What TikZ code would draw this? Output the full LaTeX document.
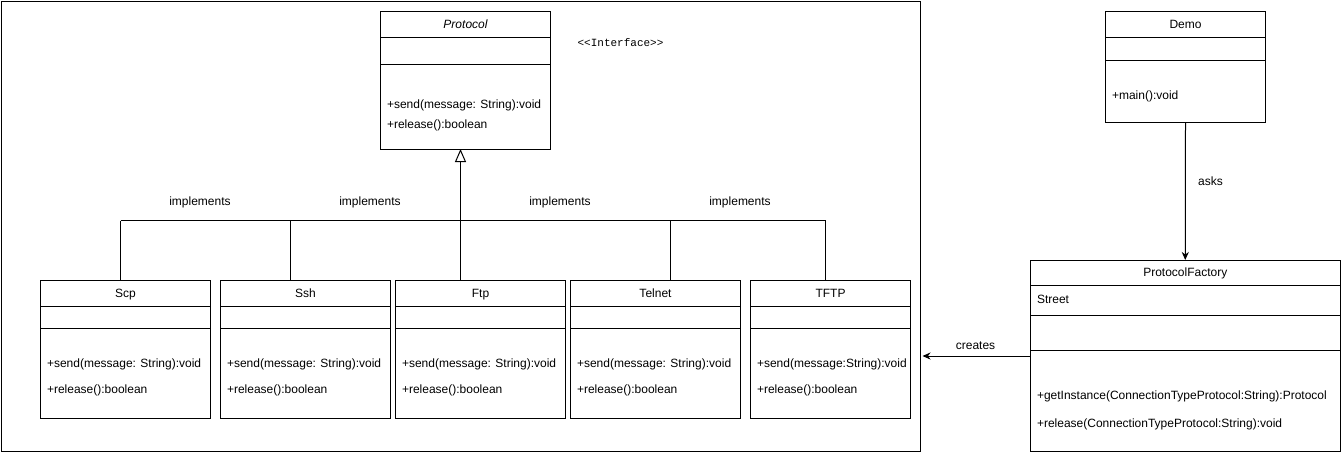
\documentclass[tikz,border=0pt]{standalone}
\usepackage{fontspec}
\setmainfont{Liberation Sans}
\setmonofont{Liberation Mono}
\usetikzlibrary{arrows.meta}
\newcommand{\umlclass}[7]{%
  \node[box, minimum width=#4pt, minimum height=#5pt] (#1) at (#2,#3) {};
  \draw ([yshift=-#6pt]#1.north west) -- ([yshift=-#6pt]#1.north east);
  \draw ([yshift=-#7pt]#1.north west) -- ([yshift=-#7pt]#1.north east);
}
\newcommand{\impclass}[5]{%
  \umlclass{#1}{#2}{280}{#3}{138}{26}{48}
  \node[ttl] (#1-t) at ([yshift=-14pt]#1.north) {#4};
  \node[txt] (#1-s) at ([xshift=6pt,yshift=-84.5pt]#1.north west) {#5};
  \node[txt] (#1-r) at ([xshift=6pt,yshift=-110.5pt]#1.north west) {+release():boolean};
}
\begin{document}
\begin{tikzpicture}[x=1pt,y=-1pt,line width=1pt,
  font=\fontsize{12}{14}\selectfont,
  box/.style={draw, anchor=north west, inner sep=0pt, outer sep=0pt},
  txt/.style={anchor=west, inner sep=0pt, text height=8.5pt, text depth=2.5pt},
  ttl/.style={inner sep=0pt, text height=8.5pt, text depth=2.5pt},
  lbl/.style={inner sep=0pt, text height=8.5pt, text depth=2.5pt},
  arr/.style={-{Stealth[length=8pt,width=7pt,inset=2.5pt]}},
  impl/.style={-{Triangle[open,length=13pt,width=11pt]}}]
\useasboundingbox (0,0) rectangle (1341,453);
% outer frame
\node[box, minimum width=919.5pt, minimum height=450pt] (frame) at (1,1) {};

% Protocol interface
\umlclass{protocol}{380.5}{11}{170}{138}{26}{53}
\node[ttl, font=\fontsize{12}{14}\selectfont\itshape] (protocol-t) at ([yshift=-14pt]protocol.north) {Protocol};
\node[txt] (protocol-s) at ([xshift=6pt,yshift=-94.5pt]protocol.north west) {+send(message: String):void};
\node[txt] (protocol-r) at ([xshift=6pt,yshift=-114.5pt]protocol.north west) {+release():boolean};
\node[lbl, font=\ttfamily\fontsize{11}{13}\selectfont] (iface) at (620.5,43) {<<Interface>>};

% implementing classes
\impclass{scp}{40.5}{170}{Scp}{+send(message: String):void}
\impclass{ssh}{220.5}{170}{Ssh}{+send(message: String):void}
\impclass{ftp}{395.5}{170}{Ftp}{+send(message: String):void}
\impclass{telnet}{570.5}{170}{Telnet}{+send(message: String):void}
\impclass{tftp}{750.5}{160}{TFTP}{+send(message:String):void}

% implements connectors
\coordinate (b1) at (120.5,220.5);
\coordinate (b2) at (290.5,220.5);
\coordinate (b3) at (460.5,220.5);
\coordinate (b4) at (670.5,220.5);
\coordinate (b5) at (825.5,220.5);
\draw (b1) -- (b5);
\draw (b1) -- (b1 |- scp.north);
\draw (b2) -- (b2 |- ssh.north);
\draw (b4) -- (b4 |- telnet.north);
\draw (b5) -- (b5 |- tftp.north);
\draw[impl] (b3 |- ftp.north) -- (b3 |- protocol.south);
\node[lbl] (im1) at (200,202) {implements};
\node[lbl] (im2) at (370,202) {implements};
\node[lbl] (im3) at (560,202) {implements};
\node[lbl] (im4) at (740,202) {implements};

% Demo
\umlclass{demo}{1105.5}{11}{160}{111}{26}{49}
\node[ttl] (demo-t) at ([yshift=-14pt]demo.north) {Demo};
\node[txt] (demo-m) at ([xshift=6pt,yshift=-85.5pt]demo.north west) {+main():void};

% ProtocolFactory
\umlclass{pf}{1030.5}{260}{309.5}{191}{25}{55}
\draw ([yshift=-90pt]pf.north west) -- ([yshift=-90pt]pf.north east);
\node[ttl] (pf-t) at ([yshift=-13.5pt]pf.north) {ProtocolFactory};
\node[txt] (pf-a) at ([xshift=6pt,yshift=-40.5pt]pf.north west) {Street};
\node[txt] (pf-g) at ([xshift=6pt,yshift=-136.5pt]pf.north west) {+getInstance(ConnectionTypeProtocol:String):Protocol};
\node[txt] (pf-r) at ([xshift=6pt,yshift=-164pt]pf.north west) {+release(ConnectionTypeProtocol:String):void};

% asks
\draw[arr] (demo.south) -- (pf.north);
\node[lbl] (asks) at (1210.5,182) {asks};

% creates
\coordinate (crtend) at (922.5,356);
\draw[arr] ([yshift=-96pt]pf.north west) -- (crtend);
\node[lbl] (creates) at (975.5,346.5) {creates};
\end{tikzpicture}
\end{document}
